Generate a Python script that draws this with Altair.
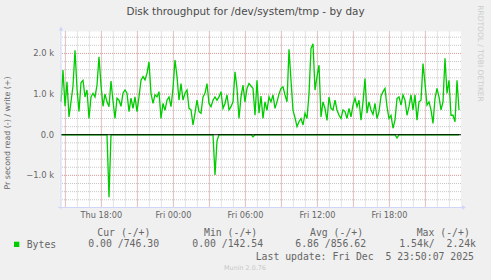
import altair as alt
import pandas as pd

# ---------------- data ----------------
title_text = "Disk throughput for /dev/system/tmp - by day"
y_title = "Pr second read (-) / write (+)"

# write (+) samples, one every 10 minutes from Thu 14:38
write_start = "2025-12-04 14:38"
write_step = "10min"
write_bytes = [
    810, 1590, 700, 1300, 440, 810, 1200, 2080, 1140, 570,
    1280, 1340, 930, 1100, 400, 930, 1020, 930, 1220, 1920,
    1220, 700, 1000, 810, 690, 1320, 830, 400, 900, 850,
    700, 1020, 1100, 1020, 570, 900, 650, 930, 570, 930,
    1340, 1430, 1350, 1510, 1790, 1020, 770, 980, 930, 1060,
    400, 770, 600, 850, 930, 690, 1140, 1840, 1430, 850,
    1260, 850, 1020, 1100, 650, 610, 240, 530, 850, 570,
    530, 930, 1020, 1260, 770, 690, 850, 930, 850, 930,
    1060, 650, 770, 980, 610, 690, 810, 1550, 1140, 400,
    930, 1220, 810, 1140, 1260, 1200, 1140, 480, 1340, 530,
    950, 400, 810, 600, 930, 810, 980, 650, 810, 1000,
    1140, 1180, 980, 810, 2100, 1340, 600, 420, 200, 320,
    400, 240, 530, 400, 1000, 2120, 2240, 1100, 1430, 1710,
    440, 810, 650, 350, 930, 650, 610, 850, 610, 480,
    400, 610, 570, 400, 650, 440, 730, 900, 690, 850,
    360, 810, 1380, 530, 810, 610, 500, 770, 400, 570,
    950, 1060, 1140, 690, 400, 480, 160, 360, 890, 930,
    730, 980, 850, 480, 690, 980, 610, 980, 360, 810,
    850, 1750, 1260, 730, 810, 610, 280, 890, 1140, 930,
    610, 810, 1880, 1020, 1340, 480, 480, 320, 1340, 610,
]

# read (-) samples
read_times = [
    "2025-12-04T14:38:00", "2025-12-04T18:28:00", "2025-12-04T18:38:00", "2025-12-04T18:48:00",
    "2025-12-05T03:18:00", "2025-12-05T03:28:00", "2025-12-05T03:38:00", "2025-12-05T03:48:00",
    "2025-12-05T06:28:00", "2025-12-05T06:38:00", "2025-12-05T06:48:00",
    "2025-12-05T18:28:00", "2025-12-05T18:38:00", "2025-12-05T18:48:00", "2025-12-05T23:48:00",
]
read_bytes = [0, 0, -1540, 0, 0, -990, -150, 0, 0, -50, 0, 0, -80, 0, 0]

x_label_times = ["2025-12-04T18:00:00", "2025-12-05T00:00:00", "2025-12-05T06:00:00",
                 "2025-12-05T12:00:00", "2025-12-05T18:00:00"]
y_ticks = [-1000, 0, 1000, 2000]
y_minor = [-1600, -1400, -1200, -1000, -800, -600, -400, -200, 200, 400, 600, 800,
           1000, 1200, 1400, 1600, 1800, 2000, 2200, 2400]
y_major = [-1000, 1000, 2000]

legend_series = "Bytes"
legend_headers = ["Cur (-/+)", "Min (-/+)", "Avg (-/+)", "Max (-/+)"]
legend_values = ["0.00 /746.30", "0.00 /142.54", "6.86 /856.62", "1.54k/\u00a0\u00a02.24k"]
last_update = "Last update: Fri Dec\u00a0\u00a05 23:50:07 2025"
version_text = "Munin 2.0.76"
side_text = "RRDTOOL / TOBI OETIKER"

# ---------------- styling ----------------
GREEN = "#00CC00"
FONT_C = "#666666"
AXIS_C = "#CFD6F8"
GRID_C = "#C8C8C8"
MGRID_C = "#E3A0A0"
SANS = "DejaVu Sans"
MONO = "DejaVu Sans Mono"

W, H = 400, 176

t_start = alt.DateTime(year=2025, month=12, date=4, hours=14, minutes=38)
t_end = alt.DateTime(year=2025, month=12, date=5, hours=23, minutes=58)
xscale = alt.Scale(domain=[t_start, t_end], nice=False)
yscale = alt.Scale(domain=[-1790, 2540], nice=False, zero=False)

df_write = pd.DataFrame({
    "t": pd.date_range(write_start, periods=len(write_bytes), freq=write_step),
    "v": write_bytes,
})
df_read = pd.DataFrame({"t": pd.to_datetime(read_times), "v": read_bytes})

minor_v = pd.DataFrame({"t": pd.date_range("2025-12-04 15:00", "2025-12-05 23:00", freq="h")})
major_v = pd.DataFrame({"t": pd.date_range("2025-12-04 15:00", "2025-12-05 21:00", freq="3h")})
minor_h = pd.DataFrame({"v": y_minor})
major_h = pd.DataFrame({"v": y_major})

X = lambda: alt.X("t:T", scale=xscale, axis=None)
Y = lambda: alt.Y("v:Q", scale=yscale, axis=None)

gv_minor = alt.Chart(minor_v).mark_rule(color=GRID_C, strokeDash=[1, 1], strokeWidth=1).encode(x=X())
gh_minor = alt.Chart(minor_h).mark_rule(color=GRID_C, strokeDash=[1, 1], strokeWidth=1).encode(y=Y())
gv_major = alt.Chart(major_v).mark_rule(color=MGRID_C, strokeDash=[1, 1], strokeWidth=1).encode(x=X())
gh_major = alt.Chart(major_h).mark_rule(color=MGRID_C, strokeDash=[1, 1], strokeWidth=1).encode(y=Y())

line_write = alt.Chart(df_write).mark_line(color=GREEN, strokeWidth=1.3).encode(x=X(), y=Y())
line_read = alt.Chart(df_read).mark_line(color=GREEN, strokeWidth=1.3).encode(x=X(), y=Y())
zero_rule = alt.Chart(pd.DataFrame({"v": [0]})).mark_rule(color="#000000", strokeWidth=1).encode(y=Y())

# tick labels placed through the scales
x_labels = alt.Chart(pd.DataFrame({"t": x_label_times})).transform_calculate(
    lab="timeFormat(toDate(datum.t), '%a %H:%M')"
).mark_text(font=SANS, fontSize=8.2, color=FONT_C, align="center", baseline="middle").encode(
    x=X(), y=alt.value(H + 8.2), text="lab:N")
y_labels = alt.Chart(pd.DataFrame({"v": y_ticks})).transform_calculate(
    lab="datum.v == 0 ? '0.0' : format(datum.v / 1000, '.1f') + ' k'"
).mark_text(font=SANS, fontSize=8.4, color=FONT_C, align="right", baseline="middle").encode(
    y=Y(), x=alt.value(-7), text="lab:N")

one = pd.DataFrame({"a": [0]})
base = alt.Chart(one)

x_axis_line = base.mark_rule(color=AXIS_C, strokeWidth=1).encode(
    x=alt.value(-3), x2=alt.value(W + 2), y=alt.value(H))
y_axis_line = base.mark_rule(color=AXIS_C, strokeWidth=1).encode(
    x=alt.value(0), y=alt.value(H + 2), y2=alt.value(-2))
x_arrow = base.mark_point(shape="triangle-right", filled=True, size=22, color=AXIS_C, opacity=1).encode(
    x=alt.value(W + 3), y=alt.value(H))
y_arrow = base.mark_point(shape="triangle-up", filled=True, size=22, color=AXIS_C, opacity=1).encode(
    x=alt.value(0), y=alt.value(-3))


def txt(s, x, y, size, font=SANS, color=FONT_C, align="left", angle=0):
    return base.mark_text(text=s, font=font, fontSize=size, color=color, align=align,
                          baseline="middle", angle=angle).encode(x=alt.value(x), y=alt.value(y))


texts = [
    txt(title_text, 184.5, -19.5, 10.4, align="center", color="#4A4A4A"),
    txt(y_title, -53.5, 101.5, 7.9, align="center", angle=270),
    txt(side_text, 419, 22, 7.5, align="center", angle=90, color="#CCCCCC"),
    txt(legend_series, -34.3, 213.0, 9.8, font=MONO),
    txt(version_text, 184, 236.8, 6.4, align="center", color="#C8C8C8"),
    txt(last_update, 194.7, 225.2, 9.8, font=MONO),
]
header_x = [36.3, 143.0, 249.0, 355.7]
value_x = [27.3, 131.3, 234.3, 338.3]
for s, x in zip(legend_headers, header_x):
    texts.append(txt(s, x, 201.2, 9.8, font=MONO))
for s, x in zip(legend_values, value_x):
    texts.append(txt(s, x, 212.8, 9.8, font=MONO))

legend_box = base.mark_rect(color=GREEN).encode(
    x=alt.value(-47), x2=alt.value(-41.7), y=alt.value(210.2), y2=alt.value(215.5))

chart = alt.layer(
    gv_minor, gh_minor, gv_major, gh_major,
    line_write, line_read, zero_rule,
    x_axis_line, y_axis_line, x_arrow, y_arrow,
    x_labels, y_labels,
    legend_box, *texts,
).properties(
    width=W, height=H,
    autosize=alt.AutoSizeParams(type="none"),
    padding={"left": 61, "top": 31.5, "right": 30, "bottom": 72.5},
    background="#F0F0F0",
).configure_view(
    stroke=None, fill="#FFFFFF",
)

chart.save("out.html", embed_options={"renderer": "svg", "actions": False})
